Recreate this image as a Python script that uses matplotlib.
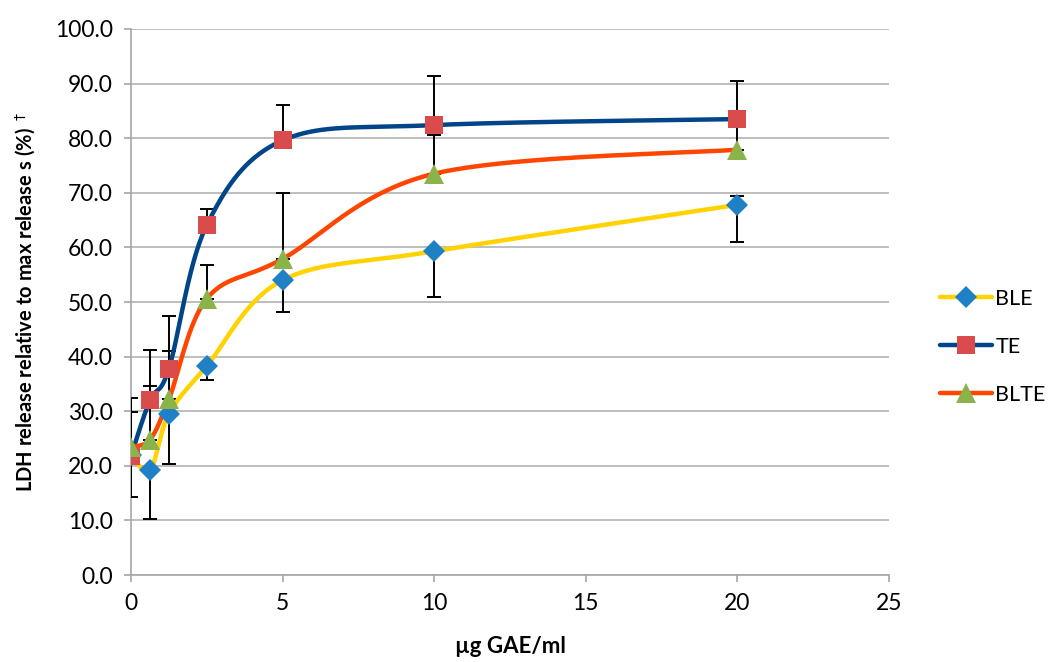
import numpy as np
import matplotlib
matplotlib.use("Agg")
import matplotlib.pyplot as plt

plt.rcParams['font.family'] = ['Lato', 'DejaVu Sans']

doses = [0, 0.625, 1.25, 2.5, 5, 10, 20]

# BLE bars only go down, TE and BLTE bars only go up
ble = [22.0, 19.2, 29.5, 38.3, 54.0, 59.3, 67.8]
ble_lo = [7.7, 9.0, 9.2, 2.6, 5.8, 8.3, 6.8]
ble_hi = [0, 0, 0, 0, 0, 0, 1.6]

te = [21.8, 32.0, 37.8, 64.1, 79.6, 82.4, 83.5]
te_lo = [0, 0, 0, 0, 0, 0, 0]
te_hi = [10.7, 9.2, 9.7, 2.9, 6.4, 8.9, 7.0]

blte = [23.5, 24.8, 32.2, 50.6, 57.9, 73.5, 77.9]
blte_lo = [0, 0, 0, 0, 0, 0, 0]
blte_hi = [6.4, 9.8, 8.8, 6.2, 12.1, 7.1, 5.5]

series = [
    ("BLE", ble, ble_lo, ble_hi, "#FFD200", "#1F80C6", "D", 11),
    ("TE", te, te_lo, te_hi, "#00458A", "#DA4B4B", "s", 13),
    ("BLTE", blte, blte_lo, blte_hi, "#FF4500", "#8AB44A", "^", 14),
]


def smooth(x, y, n=40):
    # Excel style smoothed line: cubic bezier, catmull-rom control points
    x = np.asarray(x, float)
    y = np.asarray(y, float)
    px = np.concatenate([[x[0]], x, [x[-1]]])
    py = np.concatenate([[y[0]], y, [y[-1]]])
    xs, ys = [], []
    t = np.linspace(0, 1, n)
    for i in range(len(x) - 1):
        p0 = np.array([px[i + 1], py[i + 1]])
        p3 = np.array([px[i + 2], py[i + 2]])
        p1 = p0 + (np.array([px[i + 2], py[i + 2]]) - np.array([px[i], py[i]])) / 6
        p2 = p3 - (np.array([px[i + 3], py[i + 3]]) - np.array([px[i + 1], py[i + 1]])) / 6
        b = ((1 - t) ** 3)[:, None] * p0 + (3 * (1 - t) ** 2 * t)[:, None] * p1 \
            + (3 * (1 - t) * t ** 2)[:, None] * p2 + (t ** 3)[:, None] * p3
        xs.extend(b[:, 0])
        ys.extend(b[:, 1])
    return xs, ys


fig = plt.figure(figsize=(10.54, 6.62), dpi=100)
ax = fig.add_axes([0.1243, 0.1314, 0.7192, 0.8248])

handles = []
for name, vals, lo, hi, lc, mc, mk, ms in series:
    for j in range(len(doses)):
        if lo[j] > 0:
            ax.errorbar([doses[j]], [vals[j]], yerr=[[lo[j]], [0]], fmt="none",
                        ecolor="black", elinewidth=1.4, capsize=5, capthick=1.4,
                        zorder=3)
        if hi[j] > 0:
            ax.errorbar([doses[j]], [vals[j]], yerr=[[0], [hi[j]]], fmt="none",
                        ecolor="black", elinewidth=1.4, capsize=5, capthick=1.4,
                        zorder=3)
for name, vals, lo, hi, lc, mc, mk, ms in series:
    sx, sy = smooth(doses, vals)
    ax.plot(sx, sy, color=lc, lw=3.2, solid_capstyle="round", zorder=4)
    ax.plot(doses, vals, ls="none", marker=mk, color=mc, ms=ms,
            markeredgewidth=0, zorder=5)
    h, = ax.plot([], [], color=lc, lw=3.2, marker=mk, ms=ms, mfc=mc,
                 markeredgewidth=0, solid_capstyle="round")
    handles.append(h)

ax.set_xlim(0, 25)
ax.set_ylim(0, 100)
ax.set_xticks(range(0, 26, 5))
ax.set_yticks(np.arange(0, 101, 10))
ax.set_yticklabels([f"{v:.1f}" for v in np.arange(0, 101, 10)])
ax.yaxis.grid(True, color="#B3B3B3", lw=1.2)
ax.set_axisbelow(True)
for s in ["top", "right"]:
    ax.spines[s].set_visible(False)
for s in ["left", "bottom"]:
    ax.spines[s].set_color("#A6A6A6")
    ax.spines[s].set_linewidth(1.2)
ax.tick_params(colors="#A6A6A6", labelcolor="black", labelsize=16.5, length=5, width=1.2)
ax.tick_params(axis="y", pad=8)
ax.tick_params(axis="x", pad=8)

ax.set_xlabel("µg GAE/ml", fontsize=16, fontweight="bold", labelpad=16)
ax.set_ylabel("LDH release relative to max release s (%) $^\\dagger$", fontsize=14.5,
              fontweight="bold", labelpad=12)

fig.legend(handles, ["BLE", "TE", "BLTE"], loc="center left",
           bbox_to_anchor=(0.88, 0.476), frameon=False, fontsize=15.5,
           handlelength=2.4, labelspacing=1.3, handletextpad=0.15,
           borderaxespad=0.2)

fig.savefig("out.png", dpi=100)
